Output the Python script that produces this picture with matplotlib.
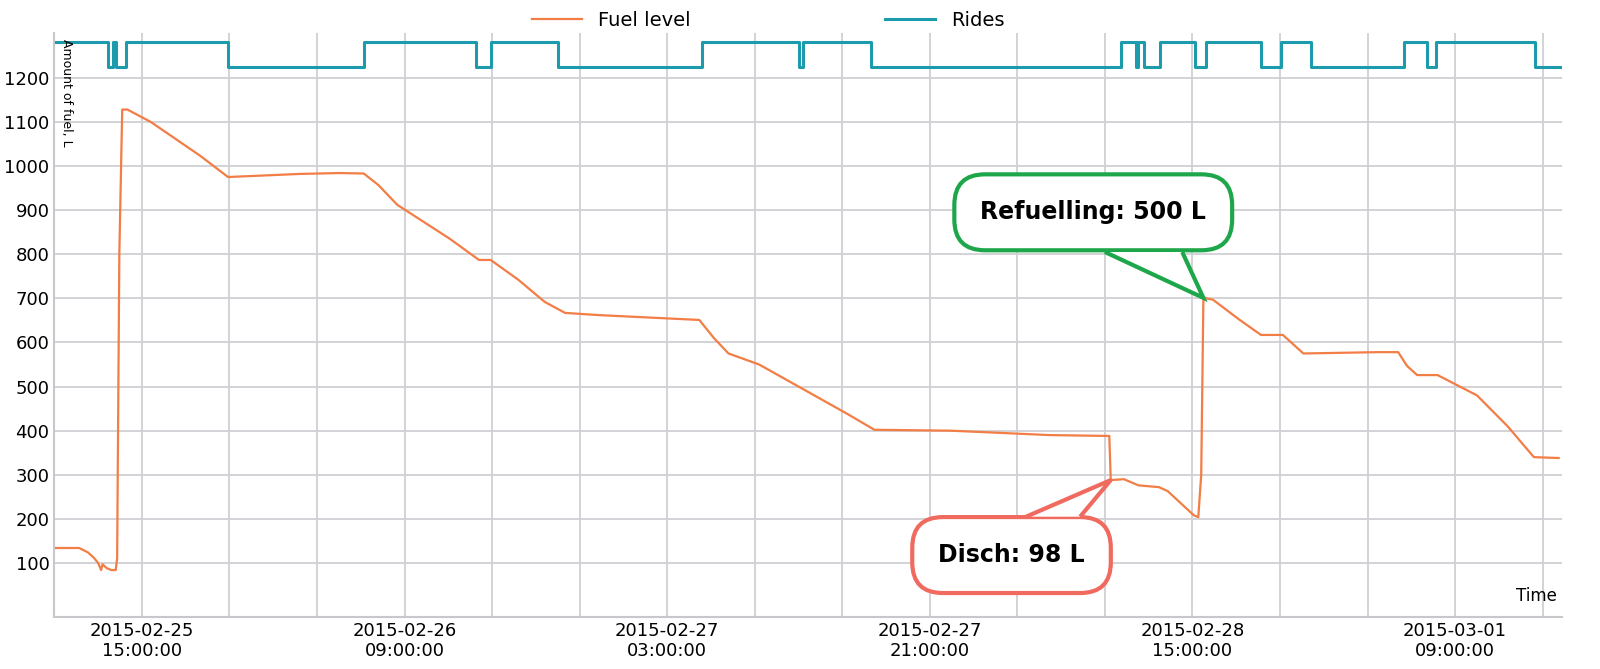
import numpy as np
import matplotlib
matplotlib.use('Agg')
import matplotlib.pyplot as plt
import matplotlib.dates as md
from matplotlib.patches import Polygon
from datetime import datetime, timedelta

t0 = datetime(2015, 2, 25, 9, 0)

# fuel level: hours after t0, litres
fuel_h = [0.0, 1.7, 2.3, 2.7, 3.0, 3.2, 3.3, 3.6, 3.9, 4.2, 4.3, 4.45, 4.6, 4.65,
          5.0, 6.6, 10.0, 11.9, 16.8, 19.5, 21.2, 22.2, 23.5, 27.1, 29.1, 29.9,
          31.8, 33.6, 35.0, 37.3, 44.2, 45.2, 46.2, 48.3, 51.0, 54.4, 56.2, 61.4,
          68.2, 72.3, 72.4, 73.3, 74.3, 75.7, 76.3, 78.1, 78.4, 78.6, 78.75,
          79.4, 81.2, 82.7, 84.2, 85.6, 90.7, 92.1, 92.7, 93.4, 94.8, 97.5,
          99.6, 101.4, 103.1]
fuel_v = [134, 134, 124, 112, 100, 84, 97, 88, 84, 84, 110, 800, 1050, 1128,
          1128, 1100, 1023, 975, 982, 984, 983, 957, 912, 835, 787, 787,
          742, 692, 667, 662, 651, 610, 575, 550, 500, 437, 402, 400,
          390, 388, 288, 290, 276, 272, 263, 208, 204, 300, 701,
          697, 652, 617, 617, 575, 578, 578, 547, 526, 526, 480, 410, 340, 338]

# rides: state change hours (1 = moving / high)
ride_h = [0.0, 3.7, 4.0, 4.2, 4.9, 11.9, 21.2, 28.9, 29.9, 34.5, 44.4, 51.0,
          51.3, 56.0, 73.1, 74.1, 74.3, 74.7, 75.8, 78.2, 78.9, 82.7, 84.1,
          86.1, 92.5, 94.1, 94.7, 101.5, 103.3]
ride_s = [1, 0, 1, 0, 1, 0, 1, 0, 1, 0, 1, 0, 1, 0, 1, 0, 1, 0, 1, 0, 1, 0,
          1, 0, 1, 0, 1, 0, 0]
ride_hi, ride_lo = 1280, 1225

fuel_t = [t0 + timedelta(hours=h) for h in fuel_h]
ride_t = [t0 + timedelta(hours=h) for h in ride_h]
ride_v = [ride_hi if s else ride_lo for s in ride_s]

orange = '#f27d45'
teal = '#1b9bab'

fig = plt.figure(figsize=(16, 6.69), dpi=100)
ax = fig.add_axes([0.034, 0.078, 0.942, 0.873])
ax.plot(fuel_t, fuel_v, color=orange, lw=1.6, label='Fuel level')
ax.step(ride_t, ride_v, where='post', color=teal, lw=2.2, label='Rides')

ax.set_xlim(t0, t0 + timedelta(hours=103.3))
ax.set_ylim(-22, 1302)
ax.set_yticks(range(100, 1300, 100))
ticks = [datetime(2015, 2, 25, 15) + timedelta(hours=18 * i) for i in range(6)]
minor = [t0 + timedelta(hours=6 * i) for i in range(18)]
ax.set_xticks(minor)
ax.set_xticklabels([m.strftime('%Y-%m-%d\n%H:%M:%S') if m in ticks else '' for m in minor])
ax.tick_params(labelsize=13, length=0)
ax.grid(True, color='#d0d0d4', lw=1.3)
for s in ['top', 'right']:
    ax.spines[s].set_visible(False)
for s in ['left', 'bottom']:
    ax.spines[s].set_color('#c8c8cc')
    ax.spines[s].set_linewidth(1.5)

ax.text(0.004, 0.99, 'Amount of fuel, L', transform=ax.transAxes, rotation=-90,
        va='top', ha='left', fontsize=9)
ax.text(0.997, 0.02, 'Time', transform=ax.transAxes, ha='right', va='bottom', fontsize=12)


def H(h):
    return t0 + timedelta(hours=h)


def callout(text, i, xt, yt, col, base):
    ax.text(H(xt), yt, text, fontsize=17, fontweight='bold', ha='center', va='center',
            zorder=5,
            bbox=dict(boxstyle='round,pad=1.1,rounding_size=1.3', fc='white', ec=col, lw=3))
    (h1, h2), yb = base
    pts = [(md.date2num(H(h1)), yb), (md.date2num(fuel_t[i]), fuel_v[i]),
           (md.date2num(H(h2)), yb)]
    ax.add_patch(Polygon(pts, closed=False, fc='white', ec=col, lw=3, zorder=6,
                         joinstyle='miter'))


callout('Refuelling: 500 L', 48, 71.2, 895, '#1ea64a', ((72.0, 77.3), 805))
callout('Disch: 98 L', 40, 65.6, 118, '#f06a60', ((66.6, 70.3), 205))

fig.legend(loc='upper center', bbox_to_anchor=(0.48, 1.01), ncol=2, frameon=False,
           fontsize=14, columnspacing=10, handlelength=2.6)

fig.savefig('out.png', dpi=100)
